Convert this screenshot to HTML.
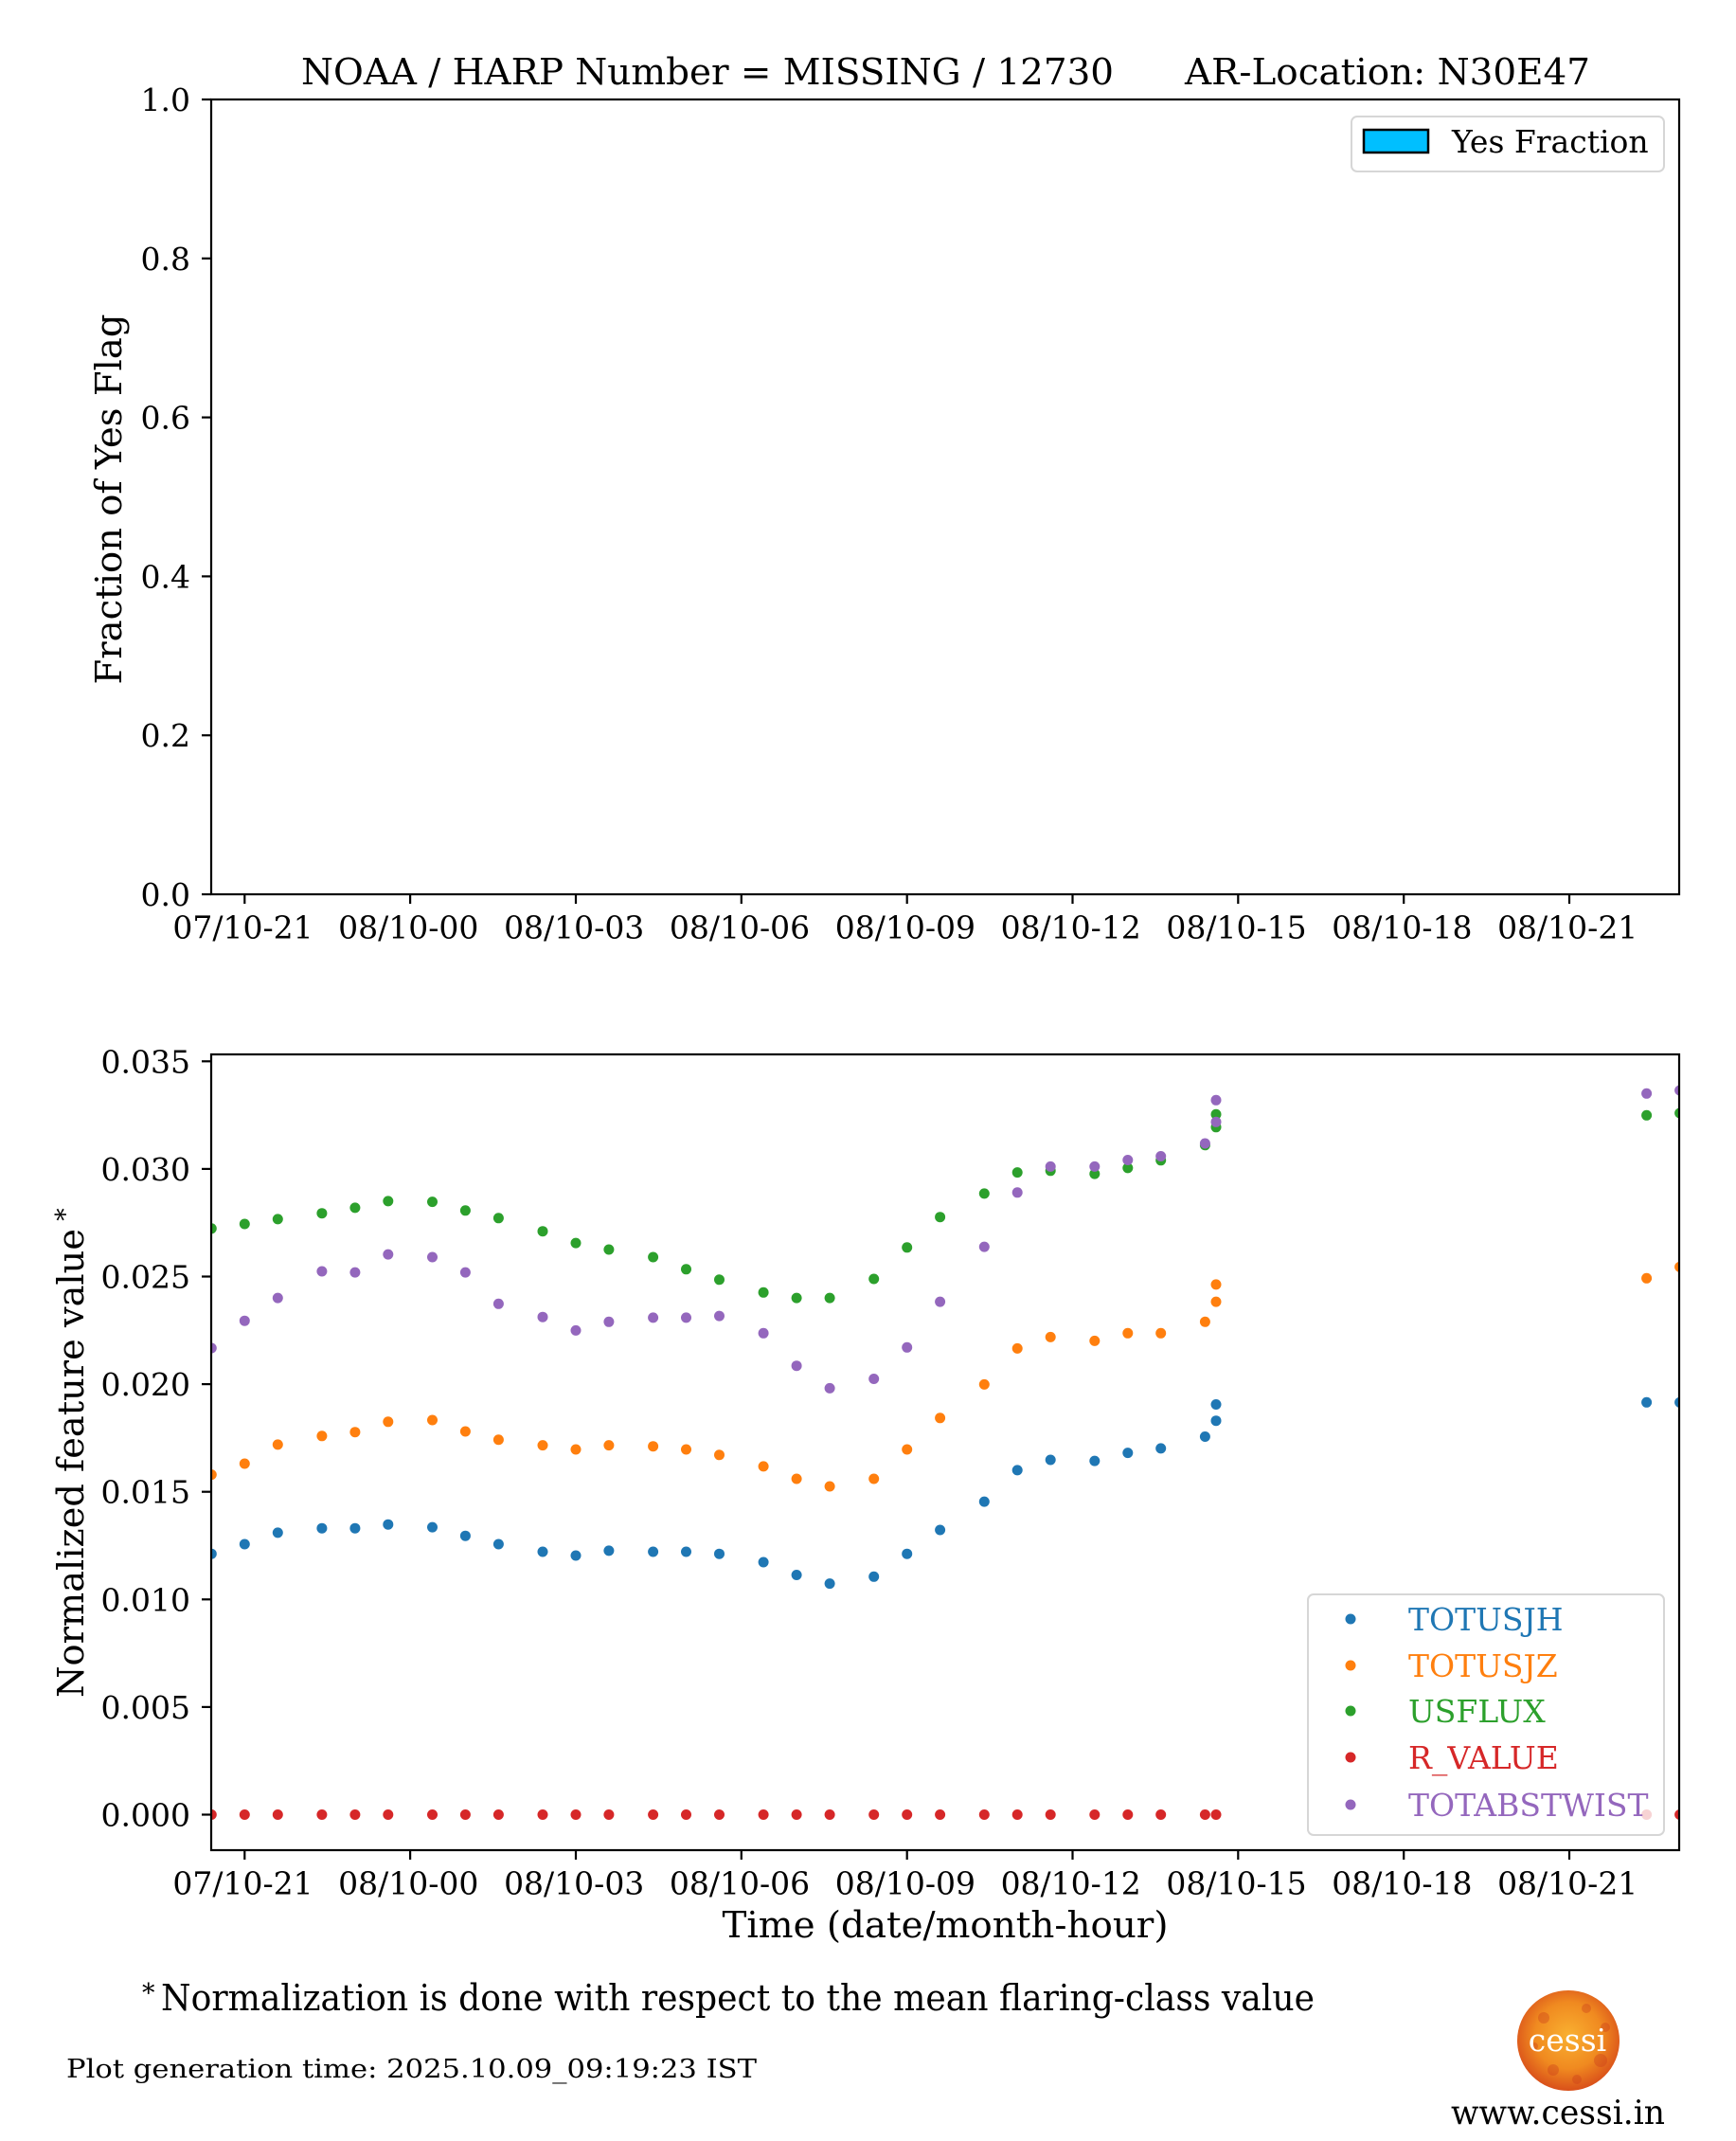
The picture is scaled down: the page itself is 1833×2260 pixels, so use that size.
<!DOCTYPE html>
<html><head><meta charset="utf-8"><style>
html,body{margin:0;padding:0;background:#fff;}
svg{display:block;}
text{font-family:"DejaVu Serif","Liberation Serif",serif;}
</style></head><body>
<svg xmlns="http://www.w3.org/2000/svg" width="1833" height="2260" viewBox="0 0 1833 2260">
<defs>
<clipPath id="cb"><rect x="223" y="1113" width="1550" height="840"/></clipPath>
<radialGradient id="sun" cx="50%" cy="45%" r="55%">
<stop offset="0" stop-color="#f9b030"/>
<stop offset="0.6" stop-color="#f08a20"/>
<stop offset="1" stop-color="#d9501a"/>
</radialGradient>
</defs>
<rect width="1833" height="2260" fill="#fff"/>

<!-- Title -->
<text x="318" y="89" font-size="38.5" textLength="858" lengthAdjust="spacingAndGlyphs">NOAA / HARP Number = MISSING / 12730</text>
<text x="1251" y="89" font-size="38.5" textLength="428" lengthAdjust="spacingAndGlyphs">AR-Location: N30E47</text>

<!-- TOP AXES -->
<rect x="223" y="105" width="1550" height="839" fill="none" stroke="#000" stroke-width="2.2"/>
<g stroke="#000" stroke-width="2.2">
<line x1="213" y1="944" x2="223" y2="944"/>
<line x1="213" y1="776.2" x2="223" y2="776.2"/>
<line x1="213" y1="608.4" x2="223" y2="608.4"/>
<line x1="213" y1="440.6" x2="223" y2="440.6"/>
<line x1="213" y1="272.8" x2="223" y2="272.8"/>
<line x1="213" y1="105" x2="223" y2="105"/>
<line x1="258.3" y1="944" x2="258.3" y2="954"/>
<line x1="433.1" y1="944" x2="433.1" y2="954"/>
<line x1="608" y1="944" x2="608" y2="954"/>
<line x1="782.8" y1="944" x2="782.8" y2="954"/>
<line x1="957.7" y1="944" x2="957.7" y2="954"/>
<line x1="1132.5" y1="944" x2="1132.5" y2="954"/>
<line x1="1307.3" y1="944" x2="1307.3" y2="954"/>
<line x1="1482.2" y1="944" x2="1482.2" y2="954"/>
<line x1="1657" y1="944" x2="1657" y2="954"/>
</g>
<g font-size="33" text-anchor="end">
<text x="201" y="956">0.0</text>
<text x="201" y="788.2">0.2</text>
<text x="201" y="620.4">0.4</text>
<text x="201" y="452.6">0.6</text>
<text x="201" y="284.8">0.8</text>
<text x="201" y="117">1.0</text>
</g>
<g font-size="33" text-anchor="middle">
<text x="256.5" y="990.7">07/10-21</text>
<text x="431.3" y="990.7">08/10-00</text>
<text x="606.2" y="990.7">08/10-03</text>
<text x="781" y="990.7">08/10-06</text>
<text x="955.9" y="990.7">08/10-09</text>
<text x="1130.7" y="990.7">08/10-12</text>
<text x="1305.5" y="990.7">08/10-15</text>
<text x="1480.4" y="990.7">08/10-18</text>
<text x="1655.2" y="990.7">08/10-21</text>
</g>
<text transform="translate(128,527) rotate(-90)" font-size="38.5" text-anchor="middle" textLength="391" lengthAdjust="spacingAndGlyphs">Fraction of Yes Flag</text>
<!-- top legend -->
<rect x="1427" y="123" width="330" height="58" rx="6" fill="#fff" fill-opacity="0.8" stroke="#ccc" stroke-opacity="0.8" stroke-width="2"/>
<rect x="1440" y="137" width="68" height="24" fill="#00bfff" stroke="#000" stroke-width="2.5"/>
<text x="1533" y="161" font-size="33">Yes Fraction</text>

<!-- BOTTOM AXES -->
<g clip-path="url(#cb)">
<g fill="#1f77b4">
<circle cx="223.3" cy="1640.2" r="5.5"/><circle cx="258.3" cy="1630" r="5.5"/><circle cx="293.3" cy="1617.9" r="5.5"/><circle cx="339.9" cy="1613.2" r="5.5"/><circle cx="374.9" cy="1613.2" r="5.5"/><circle cx="409.8" cy="1609.2" r="5.5"/><circle cx="456.5" cy="1612.1" r="5.5"/><circle cx="491.4" cy="1621.2" r="5.5"/><circle cx="526.4" cy="1630" r="5.5"/><circle cx="573" cy="1638" r="5.5"/><circle cx="608" cy="1642" r="5.5"/><circle cx="642.9" cy="1636.9" r="5.5"/><circle cx="689.6" cy="1638" r="5.5"/><circle cx="724.5" cy="1638" r="5.5"/><circle cx="759.5" cy="1640.2" r="5.5"/><circle cx="806.1" cy="1649" r="5.5"/><circle cx="841.1" cy="1662.5" r="5.5"/><circle cx="876.1" cy="1671.6" r="5.5"/><circle cx="922.7" cy="1664.3" r="5.5"/><circle cx="957.7" cy="1640.2" r="5.5"/><circle cx="992.6" cy="1615" r="5.5"/><circle cx="1039.3" cy="1585.1" r="5.5"/><circle cx="1074.2" cy="1551.9" r="5.5"/><circle cx="1109.2" cy="1541" r="5.5"/><circle cx="1155.8" cy="1542.1" r="5.5"/><circle cx="1190.8" cy="1533.6" r="5.5"/><circle cx="1225.7" cy="1528.9" r="5.5"/><circle cx="1272.4" cy="1516.5" r="5.5"/><circle cx="1284" cy="1482.5" r="5.5"/><circle cx="1284" cy="1499.7" r="5.5"/><circle cx="1738.6" cy="1480.3" r="5.5"/><circle cx="1773.6" cy="1480.3" r="5.5"/>
</g>
<g fill="#ff7f0e">
<circle cx="223.3" cy="1556.6" r="5.5"/><circle cx="258.3" cy="1545" r="5.5"/><circle cx="293.3" cy="1524.9" r="5.5"/><circle cx="339.9" cy="1515.8" r="5.5"/><circle cx="374.9" cy="1511.7" r="5.5"/><circle cx="409.8" cy="1500.8" r="5.5"/><circle cx="456.5" cy="1499" r="5.5"/><circle cx="491.4" cy="1511" r="5.5"/><circle cx="526.4" cy="1519.8" r="5.5"/><circle cx="573" cy="1525.6" r="5.5"/><circle cx="608" cy="1530" r="5.5"/><circle cx="642.9" cy="1525.6" r="5.5"/><circle cx="689.6" cy="1526.7" r="5.5"/><circle cx="724.5" cy="1530" r="5.5"/><circle cx="759.5" cy="1535.8" r="5.5"/><circle cx="806.1" cy="1547.9" r="5.5"/><circle cx="841.1" cy="1561" r="5.5"/><circle cx="876.1" cy="1569" r="5.5"/><circle cx="922.7" cy="1561" r="5.5"/><circle cx="957.7" cy="1530" r="5.5"/><circle cx="992.6" cy="1496.8" r="5.5"/><circle cx="1039.3" cy="1461.4" r="5.5"/><circle cx="1074.2" cy="1423.4" r="5.5"/><circle cx="1109.2" cy="1411.4" r="5.5"/><circle cx="1155.8" cy="1415.4" r="5.5"/><circle cx="1190.8" cy="1407.3" r="5.5"/><circle cx="1225.7" cy="1407.3" r="5.5"/><circle cx="1272.4" cy="1395.3" r="5.5"/><circle cx="1284" cy="1355.9" r="5.5"/><circle cx="1284" cy="1374.1" r="5.5"/><circle cx="1738.6" cy="1349.3" r="5.5"/><circle cx="1773.6" cy="1337.3" r="5.5"/>
</g>
<g fill="#2ca02c">
<circle cx="223.3" cy="1296.8" r="5.5"/><circle cx="258.3" cy="1292" r="5.5"/><circle cx="293.3" cy="1286.9" r="5.5"/><circle cx="339.9" cy="1280.7" r="5.5"/><circle cx="374.9" cy="1274.9" r="5.5"/><circle cx="409.8" cy="1267.9" r="5.5"/><circle cx="456.5" cy="1268.6" r="5.5"/><circle cx="491.4" cy="1277.8" r="5.5"/><circle cx="526.4" cy="1285.8" r="5.5"/><circle cx="573" cy="1299.7" r="5.5"/><circle cx="608" cy="1312.1" r="5.5"/><circle cx="642.9" cy="1319" r="5.5"/><circle cx="689.6" cy="1327" r="5.5"/><circle cx="724.5" cy="1339.8" r="5.5"/><circle cx="759.5" cy="1350.8" r="5.5"/><circle cx="806.1" cy="1364.3" r="5.5"/><circle cx="841.1" cy="1370.1" r="5.5"/><circle cx="876.1" cy="1370.1" r="5.5"/><circle cx="922.7" cy="1350" r="5.5"/><circle cx="957.7" cy="1316.8" r="5.5"/><circle cx="992.6" cy="1284.7" r="5.5"/><circle cx="1039.3" cy="1259.9" r="5.5"/><circle cx="1074.2" cy="1237.6" r="5.5"/><circle cx="1109.2" cy="1235.8" r="5.5"/><circle cx="1155.8" cy="1239.1" r="5.5"/><circle cx="1190.8" cy="1232.9" r="5.5"/><circle cx="1225.7" cy="1224.8" r="5.5"/><circle cx="1272.4" cy="1208.8" r="5.5"/><circle cx="1284" cy="1176.3" r="5.5"/><circle cx="1284" cy="1189.8" r="5.5"/><circle cx="1738.6" cy="1177.3" r="5.5"/><circle cx="1773.6" cy="1175" r="5.5"/>
</g>
<g fill="#d62728">
<circle cx="223.3" cy="1915.5" r="5.5"/><circle cx="258.3" cy="1915.5" r="5.5"/><circle cx="293.3" cy="1915.5" r="5.5"/><circle cx="339.9" cy="1915.5" r="5.5"/><circle cx="374.9" cy="1915.5" r="5.5"/><circle cx="409.8" cy="1915.5" r="5.5"/><circle cx="456.5" cy="1915.5" r="5.5"/><circle cx="491.4" cy="1915.5" r="5.5"/><circle cx="526.4" cy="1915.5" r="5.5"/><circle cx="573" cy="1915.5" r="5.5"/><circle cx="608" cy="1915.5" r="5.5"/><circle cx="642.9" cy="1915.5" r="5.5"/><circle cx="689.6" cy="1915.5" r="5.5"/><circle cx="724.5" cy="1915.5" r="5.5"/><circle cx="759.5" cy="1915.5" r="5.5"/><circle cx="806.1" cy="1915.5" r="5.5"/><circle cx="841.1" cy="1915.5" r="5.5"/><circle cx="876.1" cy="1915.5" r="5.5"/><circle cx="922.7" cy="1915.5" r="5.5"/><circle cx="957.7" cy="1915.5" r="5.5"/><circle cx="992.6" cy="1915.5" r="5.5"/><circle cx="1039.3" cy="1915.5" r="5.5"/><circle cx="1074.2" cy="1915.5" r="5.5"/><circle cx="1109.2" cy="1915.5" r="5.5"/><circle cx="1155.8" cy="1915.5" r="5.5"/><circle cx="1190.8" cy="1915.5" r="5.5"/><circle cx="1225.7" cy="1915.5" r="5.5"/><circle cx="1272.4" cy="1915.5" r="5.5"/><circle cx="1284" cy="1915.5" r="5.5"/><circle cx="1738.6" cy="1915.5" r="5.5"/><circle cx="1773.6" cy="1915.5" r="5.5"/>
</g>
<g fill="#9467bd">
<circle cx="223.3" cy="1423" r="5.5"/><circle cx="258.3" cy="1394.2" r="5.5"/><circle cx="293.3" cy="1370.1" r="5.5"/><circle cx="339.9" cy="1342" r="5.5"/><circle cx="374.9" cy="1343.1" r="5.5"/><circle cx="409.8" cy="1324.1" r="5.5"/><circle cx="456.5" cy="1327" r="5.5"/><circle cx="491.4" cy="1343.1" r="5.5"/><circle cx="526.4" cy="1376.3" r="5.5"/><circle cx="573" cy="1390.2" r="5.5"/><circle cx="608" cy="1404.4" r="5.5"/><circle cx="642.9" cy="1395.3" r="5.5"/><circle cx="689.6" cy="1390.9" r="5.5"/><circle cx="724.5" cy="1390.9" r="5.5"/><circle cx="759.5" cy="1389.1" r="5.5"/><circle cx="806.1" cy="1407.3" r="5.5"/><circle cx="841.1" cy="1441.7" r="5.5"/><circle cx="876.1" cy="1465.4" r="5.5"/><circle cx="922.7" cy="1455.5" r="5.5"/><circle cx="957.7" cy="1422.3" r="5.5"/><circle cx="992.6" cy="1374.1" r="5.5"/><circle cx="1039.3" cy="1316.1" r="5.5"/><circle cx="1074.2" cy="1258.8" r="5.5"/><circle cx="1109.2" cy="1231.4" r="5.5"/><circle cx="1155.8" cy="1231.4" r="5.5"/><circle cx="1190.8" cy="1224.5" r="5.5"/><circle cx="1225.7" cy="1220.5" r="5.5"/><circle cx="1272.4" cy="1207" r="5.5"/><circle cx="1284" cy="1161.3" r="5.5"/><circle cx="1284" cy="1184.3" r="5.5"/><circle cx="1738.6" cy="1154.3" r="5.5"/><circle cx="1773.6" cy="1151" r="5.5"/>
</g>
</g>
<rect x="223" y="1113" width="1550" height="840" fill="none" stroke="#000" stroke-width="2.2"/>
<g stroke="#000" stroke-width="2.2">
<line x1="213" y1="1915.5" x2="223" y2="1915.5"/>
<line x1="213" y1="1801.9" x2="223" y2="1801.9"/>
<line x1="213" y1="1688.3" x2="223" y2="1688.3"/>
<line x1="213" y1="1574.7" x2="223" y2="1574.7"/>
<line x1="213" y1="1461.1" x2="223" y2="1461.1"/>
<line x1="213" y1="1347.5" x2="223" y2="1347.5"/>
<line x1="213" y1="1233.9" x2="223" y2="1233.9"/>
<line x1="213" y1="1120.3" x2="223" y2="1120.3"/>
<line x1="258.3" y1="1953" x2="258.3" y2="1963"/>
<line x1="433.1" y1="1953" x2="433.1" y2="1963"/>
<line x1="608" y1="1953" x2="608" y2="1963"/>
<line x1="782.8" y1="1953" x2="782.8" y2="1963"/>
<line x1="957.7" y1="1953" x2="957.7" y2="1963"/>
<line x1="1132.5" y1="1953" x2="1132.5" y2="1963"/>
<line x1="1307.3" y1="1953" x2="1307.3" y2="1963"/>
<line x1="1482.2" y1="1953" x2="1482.2" y2="1963"/>
<line x1="1657" y1="1953" x2="1657" y2="1963"/>
</g>
<g font-size="33" text-anchor="end">
<text x="201" y="1927.5">0.000</text>
<text x="201" y="1813.9">0.005</text>
<text x="201" y="1700.3">0.010</text>
<text x="201" y="1586.7">0.015</text>
<text x="201" y="1473.1">0.020</text>
<text x="201" y="1359.5">0.025</text>
<text x="201" y="1245.9">0.030</text>
<text x="201" y="1132.3">0.035</text>
</g>
<g font-size="33" text-anchor="middle">
<text x="256.5" y="1999.7">07/10-21</text>
<text x="431.3" y="1999.7">08/10-00</text>
<text x="606.2" y="1999.7">08/10-03</text>
<text x="781" y="1999.7">08/10-06</text>
<text x="955.9" y="1999.7">08/10-09</text>
<text x="1130.7" y="1999.7">08/10-12</text>
<text x="1305.5" y="1999.7">08/10-15</text>
<text x="1480.4" y="1999.7">08/10-18</text>
<text x="1655.2" y="1999.7">08/10-21</text>
</g>
<text x="998" y="2045" font-size="38.5" text-anchor="middle" textLength="471" lengthAdjust="spacingAndGlyphs">Time (date/month-hour)</text>
<text transform="translate(88,1544.5) rotate(-90)" font-size="38.5" text-anchor="middle" textLength="495" lengthAdjust="spacingAndGlyphs">Normalized feature value</text>
<text transform="translate(78,1282) rotate(-90)" font-size="27" text-anchor="middle">*</text>

<!-- bottom legend -->
<rect x="1381" y="1683" width="376" height="254" rx="6" fill="#fff" fill-opacity="0.8" stroke="#ccc" stroke-opacity="0.8" stroke-width="2"/>
<circle cx="1426" cy="1709" r="5.5" fill="#1f77b4"/>
<circle cx="1426" cy="1758" r="5.5" fill="#ff7f0e"/>
<circle cx="1426" cy="1806" r="5.5" fill="#2ca02c"/>
<circle cx="1426" cy="1855" r="5.5" fill="#d62728"/>
<circle cx="1426" cy="1905" r="5.5" fill="#9467bd"/>
<g font-size="33">
<text x="1487" y="1721" fill="#1f77b4">TOTUSJH</text>
<text x="1487" y="1770" fill="#ff7f0e">TOTUSJZ</text>
<text x="1487" y="1818" fill="#2ca02c">USFLUX</text>
<text x="1487" y="1867" fill="#d62728">R_VALUE</text>
<text x="1487" y="1917" fill="#9467bd">TOTABSTWIST</text>
</g>

<!-- footer -->
<text x="150" y="2113" font-size="27">*</text>
<text x="170" y="2122" font-size="38.5" textLength="1218" lengthAdjust="spacingAndGlyphs">Normalization is done with respect to the mean flaring-class value</text>
<text x="70" y="2193" font-size="27.5" textLength="729" lengthAdjust="spacingAndGlyphs">Plot generation time: 2025.10.09_09:19:23 IST</text>
<ellipse cx="1656" cy="2154" rx="54" ry="53" fill="url(#sun)"/>
<g fill="#c8381a" opacity="0.35">
<circle cx="1630" cy="2130" r="6"/><circle cx="1675" cy="2120" r="5"/><circle cx="1690" cy="2175" r="7"/><circle cx="1640" cy="2185" r="6"/><circle cx="1665" cy="2195" r="5"/><circle cx="1620" cy="2160" r="4"/><circle cx="1695" cy="2140" r="5"/>
</g>
<text x="1655" y="2165" font-size="33" fill="#fff" text-anchor="middle">cessi</text>
<text x="1532" y="2242" font-size="35.5" textLength="226" lengthAdjust="spacingAndGlyphs">www.cessi.in</text>
</svg>
</body></html>
